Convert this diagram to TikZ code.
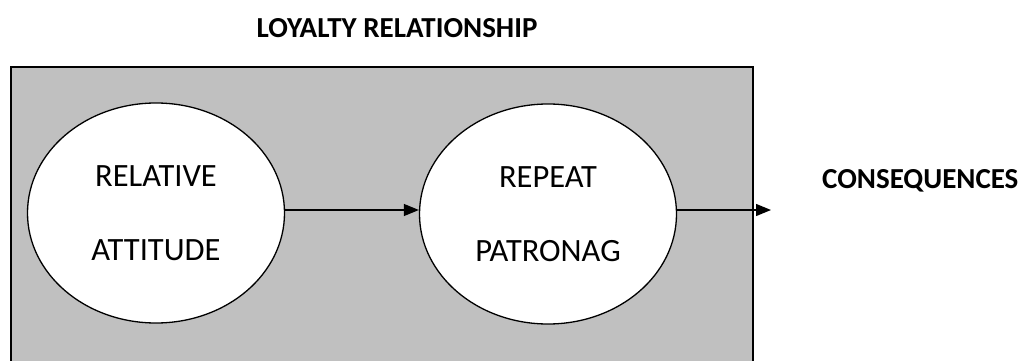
\documentclass[tikz,border=0pt]{standalone}
\usepackage{fontspec}
\setmainfont{Carlito}
\usetikzlibrary{shapes.geometric,arrows.meta}
\begin{document}
\begin{tikzpicture}[x=1pt,y=-1pt,
  stage/.style={ellipse,draw=black,line width=1.3pt,fill=white,inner sep=0pt,
    minimum width=257pt,minimum height=220pt,align=center,
    font=\fontsize{32.5}{74}\selectfont},
  flow/.style={line width=1.3pt,-{Triangle[length=15pt,width=12pt]}},
  heading/.style={font=\bfseries\fontsize{29}{32}\selectfont}]
\useasboundingbox (0,0) rectangle (1020,361);
% shaded panel holding the two stages
\draw[fill={rgb,255:red,192;green,192;blue,192},line width=1.6pt] (11,67) rectangle (753,375);
\node[heading] (title) at (397,28) {LOYALTY RELATIONSHIP};
\node[stage] (att) at (156,213) {RELATIVE\\ATTITUDE};
\node[stage] (rep) at (548,214) {REPEAT\\PATRONAG};
\node[heading,anchor=west,inner sep=0pt] (cons) at (822,181) {CONSEQUENCES};
\coordinate (out) at (771,210);
\draw[flow] (att.east |- 0,210) -- (rep.west |- 0,210);
\draw[flow] (rep.east |- 0,210) -- (out);
\end{tikzpicture}
\end{document}
